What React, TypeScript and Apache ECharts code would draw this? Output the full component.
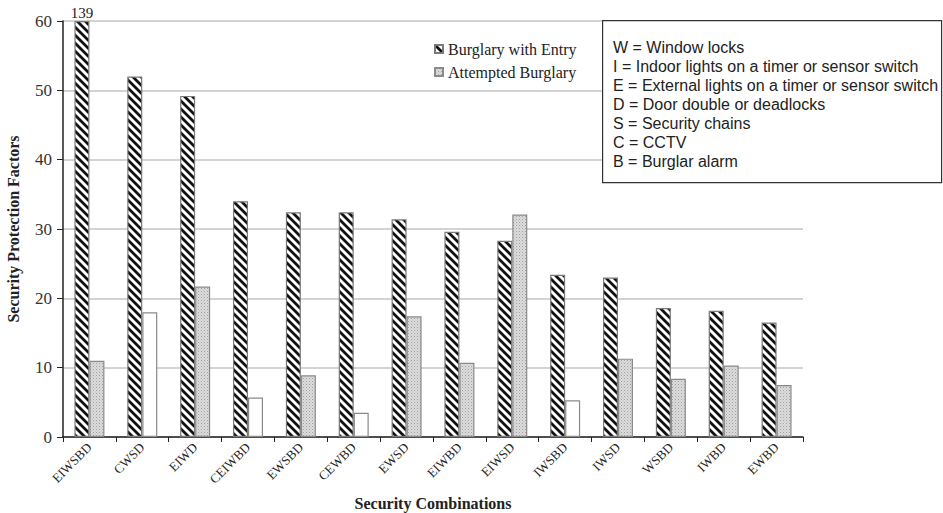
import React, { useEffect, useRef } from "react";
import * as echarts from "echarts";

const categories = ["EIWSBD", "CWSD", "EIWD", "CEIWBD", "EWSBD", "CEWBD", "EWSD", "EIWBD", "EIWSD", "IWSBD", "IWSD", "WSBD", "IWBD", "EWBD"];
const burglaryWithEntry = [139, 52, 49.2, 34, 32.4, 32.4, 31.4, 29.6, 28.3, 23.4, 23.0, 18.6, 18.2, 16.5];
const attemptedBurglary = [11, 18, 21.7, 5.7, 8.9, 3.5, 17.4, 10.7, 32.1, 5.3, 11.3, 8.4, 10.3, 7.5];
const hollowAttempted = ["CWSD", "CEIWBD", "CEWBD", "IWSBD"];
const yTicks = { min: 0, max: 60, interval: 10 };
const keyLines = [
  "W = Window locks",
  "I = Indoor lights on a timer or sensor switch",
  "E = External lights on a timer or sensor switch",
  "D = Door double or deadlocks",
  "S = Security chains",
  "C = CCTV",
  "B = Burglar alarm",
];

const SERIF = "'Liberation Serif', 'Times New Roman', serif";
const SANS = "'Liberation Sans', Arial, sans-serif";

function svgUrl(svg: string) {
  return "data:image/svg+xml;charset=utf-8," + encodeURIComponent(svg);
}

const hatchSvg =
  "<svg xmlns='http://www.w3.org/2000/svg' width='8' height='8'>" +
  "<rect width='8' height='8' fill='white'/>" +
  "<path d='M-4,-4 L12,12 M-4,4 L4,12 M4,-4 L12,4' stroke='#111' stroke-width='2.8'/></svg>";

const dotSvg =
  "<svg xmlns='http://www.w3.org/2000/svg' width='3' height='3'>" +
  "<rect width='3' height='3' fill='#dcdcdc'/>" +
  "<rect x='0' y='0' width='1' height='1' fill='#a0a0a0'/>" +
  "<rect x='1.5' y='1.5' width='1' height='1' fill='#b8b8b8'/></svg>";

export default function App() {
  const ref = useRef<HTMLDivElement>(null);

  useEffect(() => {
    if (!ref.current) return;
    const chart = echarts.init(ref.current, null, { renderer: "svg" });

    const hatch = { image: svgUrl(hatchSvg), repeat: "repeat", imageWidth: 8, imageHeight: 8 } as any;
    const dots = { image: svgUrl(dotSvg), repeat: "repeat", imageWidth: 3, imageHeight: 3 } as any;

    const entryData = burglaryWithEntry.map((v) =>
      v > yTicks.max
        ? {
            value: yTicks.max,
            label: {
              show: true,
              position: "top",
              distance: 1,
              formatter: String(v),
              fontFamily: SERIF,
              fontSize: 15,
              color: "#222",
            },
          }
        : v
    );

    const attemptedData = attemptedBurglary.map((v, i) =>
      hollowAttempted.includes(categories[i])
        ? { value: v, itemStyle: { color: "#ffffff", borderColor: "#8a8a8a", borderWidth: 1.2 } }
        : v
    );

    chart.setOption({
      animation: false,
      backgroundColor: "#ffffff",
      grid: { left: 63, right: 140, top: 21, bottom: 76, containLabel: false, outerBoundsMode: "none" },
      legend: {
        orient: "vertical",
        left: 429,
        top: 36,
        itemWidth: 8,
        itemHeight: 8,
        itemGap: 7,
        icon: "rect",
        textStyle: { fontFamily: SERIF, fontSize: 16, color: "#222" },
        data: ["Burglary with Entry", "Attempted Burglary"],
      },
      xAxis: {
        type: "category",
        data: categories,
        name: "Security Combinations",
        nameLocation: "middle",
        nameGap: 58,
        nameTextStyle: { fontFamily: SERIF, fontSize: 16, fontWeight: "bold", color: "#222" },
        axisLine: { lineStyle: { color: "#222", width: 1.5 } },
        axisTick: { show: true, interval: 0, length: 5, lineStyle: { color: "#222" } },
        axisLabel: { interval: 0, rotate: 45, margin: 8, fontFamily: SERIF, fontSize: 13, color: "#222" },
      },
      yAxis: {
        type: "value",
        min: yTicks.min,
        max: yTicks.max,
        interval: yTicks.interval,
        name: "Security Protection Factors",
        nameLocation: "middle",
        nameGap: 42,
        nameTextStyle: { fontFamily: SERIF, fontSize: 16, fontWeight: "bold", color: "#222" },
        axisLine: { show: true, lineStyle: { color: "#222", width: 1.5 } },
        axisTick: { show: true, length: 6, lineStyle: { color: "#222" } },
        axisLabel: { fontFamily: SERIF, fontSize: 17, color: "#333", margin: 11 },
        splitLine: { show: true, lineStyle: { color: "#c4c4c4", width: 1.5 } },
      },
      series: [
        {
          name: "Burglary with Entry",
          type: "bar",
          data: entryData,
          barWidth: 15,
          barGap: "0%",
          itemStyle: { color: hatch, borderColor: "#7a7a7a", borderWidth: 1.2 },
        },
        {
          name: "Attempted Burglary",
          type: "bar",
          data: attemptedData,
          barWidth: 15,
          barGap: "0%",
          itemStyle: { color: dots, borderColor: "#8a8a8a", borderWidth: 1.2 },
        },
      ],
      graphic: [
        {
          type: "rect",
          left: 602,
          top: 20,
          shape: { width: 339, height: 162 },
          style: { fill: "#ffffff", stroke: "#333", lineWidth: 1.2 },
          z: 100,
        },
        {
          type: "text",
          left: 613,
          top: 38,
          z: 101,
          style: {
            text: keyLines.join("\n"),
            fontFamily: SANS,
            fontSize: 16,
            lineHeight: 19,
            fill: "#222",
          },
        },
      ],
    });

    return () => chart.dispose();
  }, []);

  return <div ref={ref} style={{ width: 943, height: 513, position: "absolute", left: 0, top: 0 }} />;
}
